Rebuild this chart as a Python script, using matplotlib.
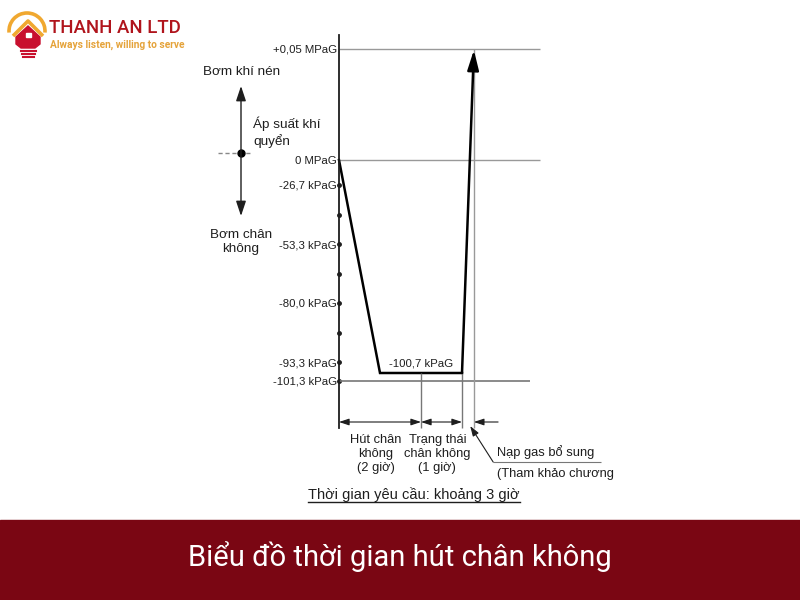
"""Vacuum drying time diagram (Thanh An LTD)."""

import matplotlib

matplotlib.use("Agg")
import matplotlib.pyplot as plt
from matplotlib.patches import Arc, Polygon, Rectangle

plt.rcParams["font.family"] = ["Liberation Sans", "DejaVu Sans"]

# pressure levels on the vertical axis (schematic heights, not to scale)
level_labels = ["+0,05 MPaG", "0 MPaG", "-26,7 kPaG", "-53,3 kPaG",
                "-80,0 kPaG", "-93,3 kPaG", "-101,3 kPaG"]
level_y = [49, 160, 185, 244, 303, 362, 381]
minor_dot_y = [215, 274, 333]

# pressure curve: time (hours) vs schematic height
curve_t = [0.0, 1.0, 3.0, 3.29]
curve_y = [160, 373, 373, 50]
floor_label = "-100,7 kPaG"

# phases along the time axis
phase_bounds = [0.0, 2.0, 3.0, 3.29]
phase_labels = ["Hút chân\nkhông\n(2 giờ)", "Trạng thái\nchân không\n(1 giờ)"]
charge_labels = ["Nạp gas bổ sung", "(Tham khảo chương"]
total_label = "Thời gian yêu cầu: khoảng 3 giờ"

title = "Biểu đồ thời gian hút chân không"
brand = "THANH AN LTD"
slogan = "Always listen, willing to serve"

ORIGIN_X = 339
PX_PER_HOUR = 41
AXIS_TOP, AXIS_BOTTOM = 35, 428
DIM_Y = 422
RED = "#7a0613"
INK = "#1e1e1e"


def main() -> None:
    fig = plt.figure(figsize=(8, 6), dpi=100)
    canvas = fig.add_axes([0, 0, 1, 1])
    canvas.set_xlim(0, 800)
    canvas.set_ylim(600, 0)
    canvas.axis("off")

    ax = fig.add_axes([0, 0, 1, 1], facecolor="none")
    ax.set_xlim(-ORIGIN_X / PX_PER_HOUR, (800 - ORIGIN_X) / PX_PER_HOUR)
    ax.set_ylim(600, 0)
    for side in ("top", "right", "bottom"):
        ax.spines[side].set_visible(False)
    ax.spines["left"].set_position(("data", 0))
    ax.spines["left"].set_bounds(AXIS_TOP, AXIS_BOTTOM)
    ax.spines["left"].set_linewidth(1.3)
    ax.spines["left"].set_color(INK)
    ax.set_xticks([])
    ax.set_yticks(level_y, level_labels)
    ax.tick_params(axis="y", length=0, pad=1.5, labelsize=8.2, labelcolor=INK)

    # axis dots
    ax.plot([0] * len(level_y[2:]), level_y[2:], "o", ms=2.5, color=INK)
    ax.plot([0] * len(minor_dot_y), minor_dot_y, "o", ms=2.5, color=INK)

    # reference lines
    ax.hlines(level_y[:2], 0, 4.9, color="#999999", lw=1)
    ax.hlines(level_y[-1], 0, 4.66, color="#777777", lw=1.2)

    # pressure curve
    ax.plot(curve_t[:3], curve_y[:3], color="black", lw=1.8, solid_joinstyle="miter")
    ax.annotate("", xy=(curve_t[3], curve_y[3]), xytext=(curve_t[2], curve_y[2]),
                arrowprops=dict(arrowstyle="-|>,head_length=1.2,head_width=0.34",
                                mutation_scale=10, color="black", lw=1.8,
                                shrinkA=0, shrinkB=0))
    ax.text((curve_t[1] + curve_t[2]) / 2, curve_y[1] - 10, floor_label,
            ha="center", va="center", fontsize=8.2, color=INK)

    # extension lines
    ax.vlines(phase_bounds[1:3], curve_y[1], AXIS_BOTTOM, color="#777777", lw=1)
    ax.vlines(phase_bounds[3], level_y[0], AXIS_BOTTOM, color="#999999", lw=1)

    # dimension arrows
    dim_style = dict(arrowstyle="<|-|>,head_length=0.6,head_width=0.2",
                     mutation_scale=10, color=INK, lw=0.8,
                     shrinkA=0, shrinkB=0)
    for t0, t1 in zip(phase_bounds[:2], phase_bounds[1:3]):
        ax.annotate("", xy=(t1, DIM_Y), xytext=(t0, DIM_Y), arrowprops=dim_style)
    ax.annotate("", xy=(phase_bounds[3], DIM_Y), xytext=(3.88, DIM_Y),
                arrowprops=dict(dim_style, arrowstyle="-|>,head_length=0.6,head_width=0.2"))
    for t0, t1, label in zip(phase_bounds[:2], phase_bounds[1:3], phase_labels):
        ax.text((t0 + t1) / 2 - 0.1, 434, label, ha="center", va="top",
                fontsize=9.3, linespacing=1.2, color=INK)

    # charging leader
    ax.annotate("", xy=(3.2, 426), xytext=(3.76, 462),
                arrowprops=dict(arrowstyle="-|>,head_length=0.6,head_width=0.2",
                                mutation_scale=10, color=INK, lw=0.8,
                                shrinkA=0, shrinkB=0))
    ax.hlines(462, 3.76, 6.4, color="#777777", lw=0.8)
    ax.text(3.85, 459, charge_labels[0], ha="left", va="bottom", fontsize=9.3,
            color=INK)
    ax.text(3.85, 474, charge_labels[1], ha="left", va="center", fontsize=9.3,
            color=INK)

    # total time, underlined
    total = canvas.text(414, 495, total_label, ha="center", va="center",
                        fontsize=10.5, color=INK)

    # left indicator
    canvas.annotate("", xy=(241, 86), xytext=(241, 216),
                    arrowprops=dict(arrowstyle="<|-|>,head_length=0.9,head_width=0.3",
                                    mutation_scale=10, color=INK, lw=1,
                                    shrinkA=0, shrinkB=0))
    canvas.plot([218, 251], [153, 153], ls=(0, (3, 2)), color="#888888", lw=1)
    canvas.plot([241], [153], "o", ms=5, color="black")
    canvas.text(242, 72, "Bơm khí nén", ha="center", va="center", fontsize=9.7,
                color=INK)
    canvas.text(253, 132, "Áp suất khí\nquyển", ha="left", va="center",
                fontsize=9.7, linespacing=1.25, color=INK)
    canvas.text(241, 242, "Bơm chân\nkhông", ha="center", va="center",
                fontsize=9.7, linespacing=1.15, color=INK)

    # banner
    canvas.add_patch(Rectangle((0, 520), 800, 80, color=RED, zorder=0))
    canvas.text(400, 557, title, ha="center", va="center", color="white",
                fontsize=21, family="Roboto")

    # logo
    canvas.add_patch(Arc((27, 31), 36, 36, theta1=175, theta2=365,
                         color="#f0a830", lw=2.6))
    canvas.plot([13, 28, 43], [36, 21, 36], color="#f0a830", lw=2.6,
                solid_capstyle="butt")
    canvas.add_patch(Polygon([(16, 37), (28, 26), (40, 37), (40, 44), (35, 48),
                              (21, 48), (16, 44)], closed=True, color="#c8102e"))
    canvas.add_patch(Rectangle((26, 33), 5, 4, color="white"))
    for y, x0, x1 in [(51, 21, 36), (54, 22, 35), (57, 23, 34)]:
        canvas.plot([x0, x1], [y, y], color="#c8102e", lw=1.5)
    canvas.text(49, 28, brand, ha="left", va="center", fontsize=13.4,
                family="Roboto", weight="medium", color="#b0141c")
    canvas.text(50, 45, slogan, ha="left", va="center", fontsize=7.3,
                family="Roboto", weight="bold", color="#e5a33a")

    fig.canvas.draw()
    bbox = total.get_window_extent().transformed(canvas.transData.inverted())
    canvas.plot([bbox.x0, bbox.x1], [502, 502], color=INK, lw=1)

    fig.savefig("out.png", dpi=100)


if __name__ == "__main__":
    main()
